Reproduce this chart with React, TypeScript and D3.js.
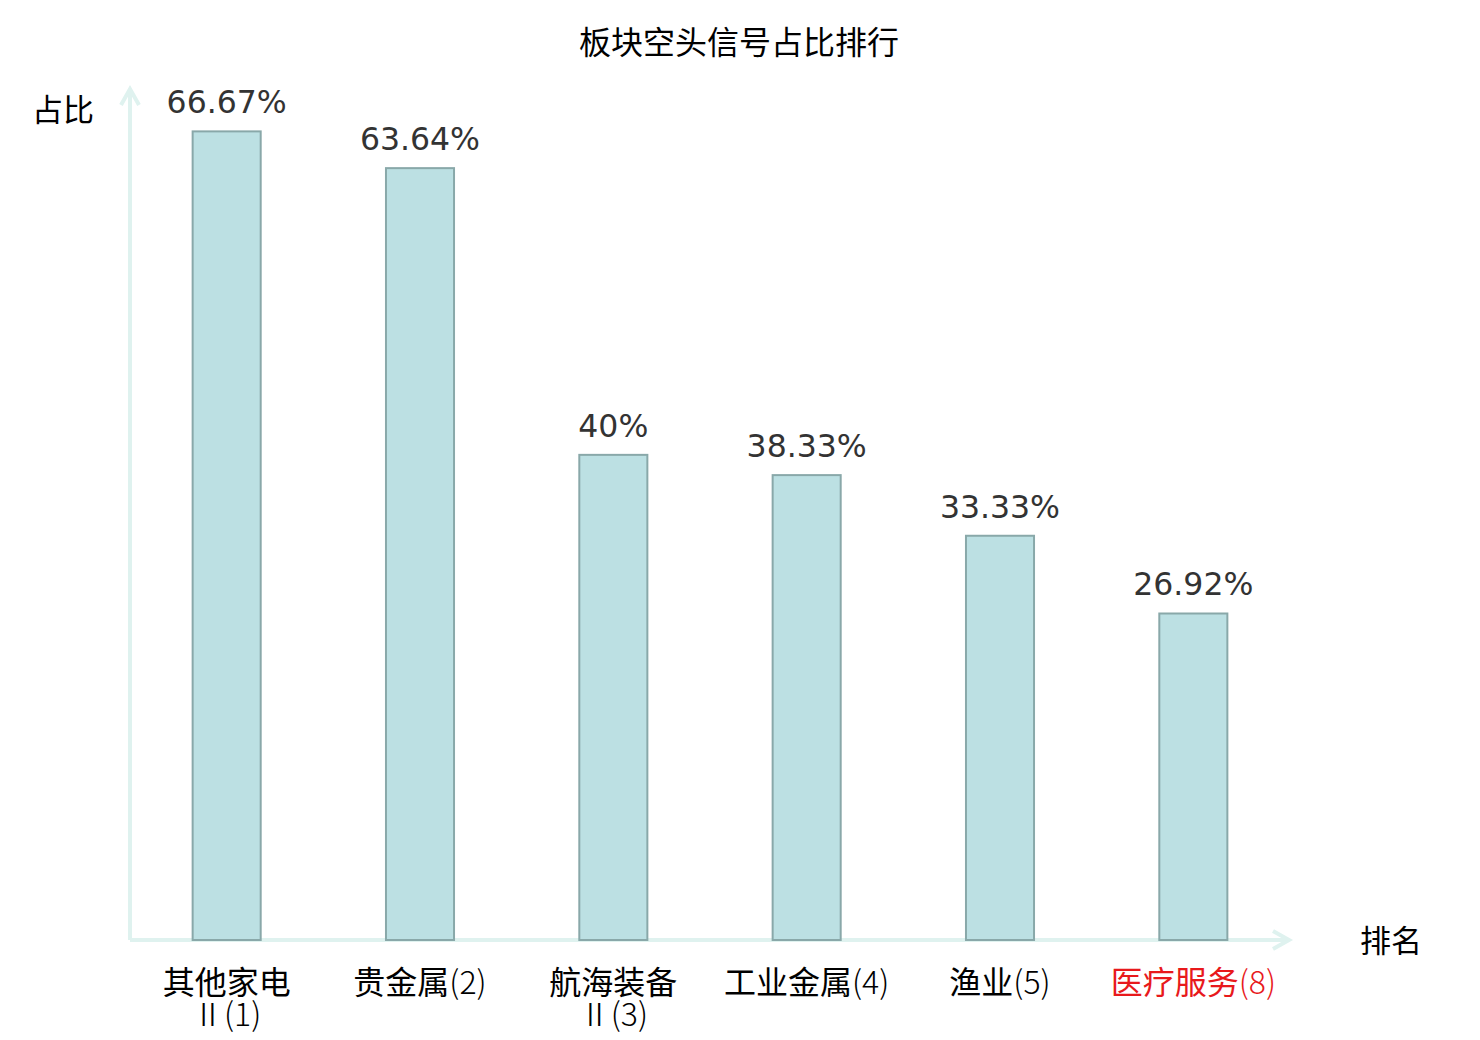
import React from "react";
import * as d3 from "d3";

const categories: string[][] = [
  ["其他家电", "Ⅱ(1)"],
  ["贵金属(2)"],
  ["航海装备", "Ⅱ(3)"],
  ["工业金属(4)"],
  ["渔业(5)"],
  ["医疗服务(8)"],
];
const values: number[] = [66.67, 63.64, 40, 38.33, 33.33, 26.92];
const valueLabels: string[] = ["66.67%", "63.64%", "40%", "38.33%", "33.33%", "26.92%"];
const highlight: boolean[] = [false, false, false, false, false, true];
const yDomain: [number, number] = [0, 70];

const W = 1480;
const H = 1040;
const left = 130;
const right = 1290;
const bottom = 940;
const top = 91;

const isCJK = (ch: string) => /[\u4e00-\u9fff]/.test(ch);

function splitRuns(s: string): { text: string; cjk: boolean }[] {
  const runs: { text: string; cjk: boolean }[] = [];
  for (const ch of Array.from(s)) {
    const c = isCJK(ch);
    if (runs.length && runs[runs.length - 1].cjk === c) runs[runs.length - 1].text += ch;
    else runs.push({ text: ch, cjk: c });
  }
  return runs;
}

export default function App() {
  const x = d3
    .scaleBand<number>()
    .domain(values.map((_, i) => i))
    .range([left, right])
    .paddingInner(0)
    .paddingOuter(0);
  const y = d3.scaleLinear().domain(yDomain).range([bottom, top]);
  const barW = x.bandwidth() * 0.352;
  const axisColor = "#dff2ef";
  const cjk = "'Noto Sans CJK SC', 'DejaVu Sans', sans-serif";
  const dejavu = "'DejaVu Sans', sans-serif";

  return (
    <svg
      width={W}
      height={H}
      style={{ position: "absolute", left: 0, top: 0, background: "#fff" }}
    >
      <text x={739} y={54} textAnchor="middle" fontSize={32} fontFamily={cjk} fill="#000">
        板块空头信号占比排行
      </text>
      <text x={63} y={121} textAnchor="middle" fontSize={31} fontFamily={cjk} fill="#000">
        占比
      </text>
      <text x={1391} y={952} textAnchor="middle" fontSize={31} fontFamily={cjk} fill="#000">
        排名
      </text>

      {/* axes */}
      <line x1={left} y1={bottom} x2={left} y2={89} stroke={axisColor} strokeWidth={4} />
      <polyline
        points={`${left - 9},${105} ${left},${89} ${left + 9},${105}`}
        fill="none"
        stroke={axisColor}
        strokeWidth={4}
      />
      <line x1={left} y1={bottom} x2={1289} y2={bottom} stroke={axisColor} strokeWidth={4} />
      <polyline
        points={`${1273},${bottom - 9} ${1289},${bottom} ${1273},${bottom + 9}`}
        fill="none"
        stroke={axisColor}
        strokeWidth={4}
      />

      {values.map((v, i) => {
        const cx = (x(i) as number) + x.bandwidth() / 2;
        return (
          <g key={i}>
            <rect
              x={cx - barW / 2}
              y={y(v)}
              width={barW}
              height={bottom - y(v)}
              fill="#bce0e3"
              stroke="#89a8a9"
              strokeWidth={2}
            />
            <text
              x={cx}
              y={y(v) - 18}
              textAnchor="middle"
              fontSize={31.5}
              fontFamily={dejavu}
              fill="#333"
            >
              {valueLabels[i]}
            </text>
            {categories[i].map((line, j) => (
              <text
                key={j}
                x={cx}
                y={994 + j * 32}
                textAnchor="middle"
                fontSize={32}
                fontFamily={cjk}
                fill={highlight[i] ? "#e8191c" : "#000"}
              >
                {splitRuns(line).map((r, k) => (
                  <tspan key={k} fontWeight={r.cjk ? 400 : 300}>
                    {r.text}
                  </tspan>
                ))}
              </text>
            ))}
          </g>
        );
      })}
    </svg>
  );
}
